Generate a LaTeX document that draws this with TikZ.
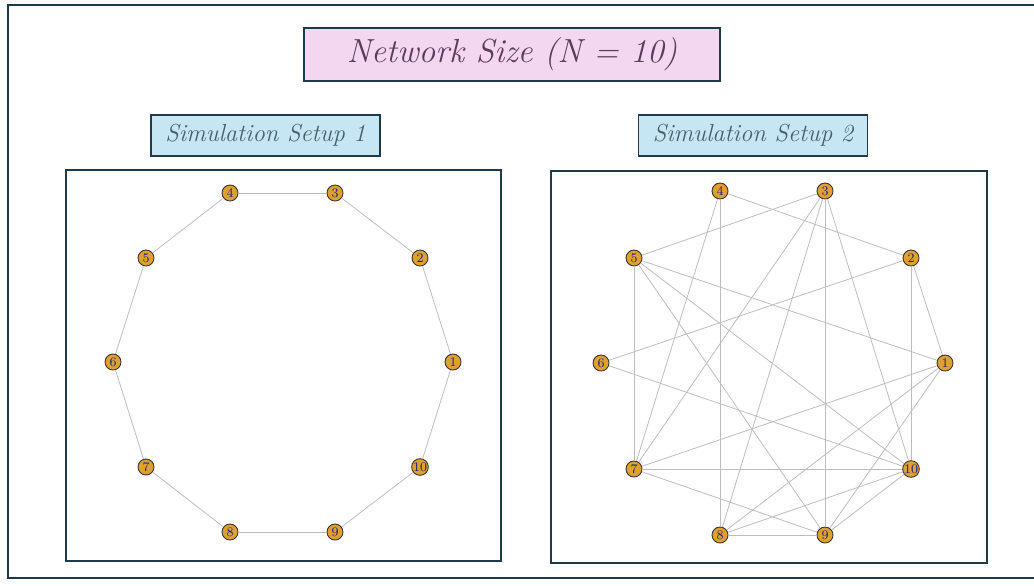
\documentclass[tikz,border=0pt]{standalone}
\usepackage{tikz}

\definecolor{framecol}{HTML}{1F3A4A}
\definecolor{titlefill}{HTML}{F3D6EF}
\definecolor{titletext}{HTML}{5B3A5B}
\definecolor{setupfill}{HTML}{C6E6F4}
\definecolor{setuptext}{HTML}{456070}
\definecolor{nodefill}{HTML}{E0A030}
\definecolor{nodetext}{HTML}{1A237E}
\definecolor{edgecol}{HTML}{BDBDBD}

\tikzstyle{panel} = [draw=framecol,line width=0.9pt]
\tikzstyle{titlebox} = [draw=framecol,line width=0.9pt,fill=titlefill,text=titletext,font=\fontsize{19}{22}\selectfont\itshape,minimum width=416*0.02cm,minimum height=53*0.02cm]
\tikzstyle{setupbox} = [draw=framecol,line width=0.9pt,fill=setupfill,text=setuptext,font=\fontsize{14}{17}\selectfont\itshape,minimum width=229*0.02cm,minimum height=41*0.02cm]
\tikzstyle{vertex}=[circle,minimum size=16*0.02cm,inner sep=0pt]
\tikzstyle{nodedecorate}=[shape=circle,draw=black!80,line width=0.5pt,fill=nodefill,text=nodetext,font=\fontsize{7.5}{8}\selectfont]
\tikzstyle{edge} = [draw=edgecol,line width=0.45pt,-]

\begin{document}
\begin{tikzpicture}[x=0.02cm,y=-0.02cm]
  \useasboundingbox (0,0) rectangle (1034,585);

  % frames
  \draw[panel] (8,5) rectangle (1045,578);
  \draw[panel] (66,170) rectangle (501,561);
  \draw[panel] (551,171) rectangle (987,563);

  % headings
  \node[titlebox] (title) at (512,54.5) {Network Size (N = 10)};
  \node[setupbox] (setupA) at (265.5,135.5) {Simulation Setup 1};
  \node[setupbox] (setupB) at (753,135.5) {Simulation Setup 2};

  % ring network
  \foreach \nodename/\x/\y in {
    1/453/362, 2/420/258, 3/335/193, 4/230/193, 5/146/258,
    6/113/362, 7/146/467, 8/230/532, 9/335/532, 10/420/467}
  {
    \node[vertex, nodedecorate] (a\nodename) at (\x,\y) {\nodename};
  }

  % random network
  \foreach \nodename/\x/\y in {
    1/945/363, 2/911/258, 3/825/191, 4/720/191, 5/634/258,
    6/601/363, 7/634/469, 8/720/535, 9/825/535, 10/911/469}
  {
    \node[vertex, nodedecorate] (b\nodename) at (\x,\y) {\nodename};
  }

  %edges or lines
  \path
  \foreach \startnode/\endnode in {
    1/2, 2/3, 3/4, 4/5, 5/6, 6/7, 7/8, 8/9, 9/10, 10/1}
  {
    (a\startnode) edge[edge] (a\endnode)
  };

  \path
  \foreach \startnode/\endnode in {
    4/2, 4/8, 4/7, 3/5, 3/7, 3/8, 3/9, 3/10, 5/1, 5/10, 5/9, 5/7,
    2/6, 2/1, 2/10, 6/10, 1/7, 1/8, 1/9, 7/10, 7/9, 8/10, 8/9, 9/10}
  {
    (b\startnode) edge[edge] (b\endnode)
  };

\end{tikzpicture}
\end{document}
